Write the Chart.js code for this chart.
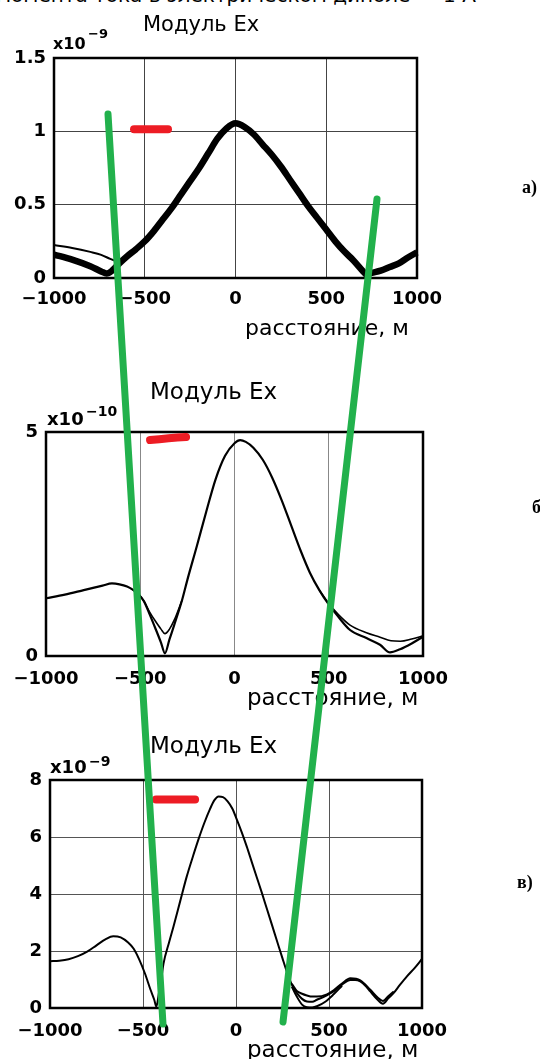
<!DOCTYPE html>
<html><head><meta charset="utf-8">
<script src="https://cdn.jsdelivr.net/npm/chart.js@4"></script>
<style>
html,body{margin:0;padding:0;background:#fff;}
body{width:540px;height:1059px;position:relative;overflow:hidden;}
canvas.panel{position:absolute;left:0;}
#overlay{position:absolute;left:0;top:0;z-index:10;pointer-events:none;}
.t{position:absolute;white-space:nowrap;line-height:1;color:#000;z-index:5;}
</style></head><body>
<canvas id="c1" class="panel"></canvas>
<canvas id="c2" class="panel"></canvas>
<canvas id="c3" class="panel"></canvas>
<canvas id="overlay" width="540" height="1059"></canvas>
<script>
// ---------- DATA ----------
const xTicks = [-1000, -500, 0, 500, 1000];
const p1_yTicks = [0, 0.5, 1, 1.5];      // ×10^-9
const p2_yTicks = [0, 5];                // ×10^-10
const p3_yTicks = [0, 2, 4, 6, 8];       // ×10^-9

// Panel a) |Ex| ×10^-9
const p1_x = [-1000,-900,-800,-740,-710,-680,-640,-600,-550,-500,-450,-400,-350,-300,-250,-200,-150,-100,-50,0,50,100,150,200,250,300,350,400,450,500,550,600,650,700,720,750,800,850,900,950,1000];
const p1_main = [0.16,0.125,0.08,0.045,0.03,0.05,0.10,0.145,0.195,0.25,0.32,0.40,0.48,0.57,0.66,0.75,0.85,0.95,1.02,1.055,1.03,0.98,0.91,0.84,0.76,0.67,0.58,0.49,0.41,0.33,0.25,0.18,0.12,0.05,0.025,0.035,0.05,0.075,0.10,0.14,0.175];
const p1_thin_x = [-1000,-900,-800,-740,-690,-640];
const p1_thin = [0.225,0.205,0.178,0.158,0.13,0.105];
const p1_red_x = [-559,-372];
const p1_red = [1.014,1.014];

// Panel б) |Ex| ×10^-10
const p2_x = [-1000,-900,-800,-700,-650,-610,-570,-540,-510,-480,-450,-420,-390,-369,-345,-320,-278,-250,-200,-150,-100,-50,0,30,60,100,150,200,250,300,350,400,450,500,550,613,700,772,825,878,940,1000];
const p2_a = [1.29,1.37,1.47,1.57,1.62,1.60,1.55,1.48,1.38,1.22,0.93,0.62,0.30,0.06,0.37,0.69,1.25,1.70,2.45,3.22,3.95,4.47,4.75,4.82,4.78,4.65,4.38,3.98,3.48,2.92,2.36,1.86,1.47,1.15,0.88,0.58,0.40,0.25,0.08,0.15,0.28,0.43];
const p2_b_x = [-540,-510,-480,-450,-420,-390,-369,-345,-320,-278];
const p2_b = [1.48,1.38,1.22,0.98,0.78,0.60,0.50,0.60,0.80,1.25];
const p2_c_x = [450,500,550,613,700,772,830,880,940,1000];
const p2_c = [1.47,1.17,0.93,0.69,0.52,0.42,0.34,0.33,0.38,0.45];
const p2_red_x = [-448,-350,-257];
const p2_red = [4.82,4.86,4.89];

// Panel в) |Ex| ×10^-9
const p3_x = [-1000,-950,-900,-850,-800,-750,-700,-660,-620,-580,-550,-520,-490,-460,-440,-428,-415,-400,-390,-360,-336,-300,-265,-230,-200,-170,-140,-115,-94,-70,-45,-20,4,30,58,85,112,140,166,195,220,250,274,300,327,355,381,410,435,480,525,570,615,640,668,700,722,760,790,820,848,880,919,960,1000];
const p3_a = [1.64,1.66,1.71,1.82,1.98,2.2,2.42,2.52,2.48,2.30,2.08,1.70,1.22,0.65,0.30,0.05,0.5,1.1,1.55,2.3,2.86,3.75,4.61,5.35,5.95,6.5,6.98,7.3,7.42,7.40,7.25,7.0,6.62,6.18,5.66,5.12,4.58,4.02,3.48,2.88,2.36,1.74,1.26,0.82,0.53,0.32,0.23,0.22,0.29,0.42,0.58,0.82,0.98,0.98,0.93,0.75,0.58,0.30,0.15,0.35,0.53,0.80,1.11,1.4,1.72];
const p3_b_x = [300,327,355,381,410,435,480,525,570];
const p3_b = [0.75,0.40,0.12,0.03,0.02,0.06,0.22,0.48,0.78];
const p3_c_x = [300,327,355,381,410,435,489,525,570,615,668,722,760,790,820,848];
const p3_c = [0.85,0.60,0.50,0.44,0.40,0.40,0.48,0.62,0.86,1.04,0.97,0.64,0.38,0.25,0.42,0.58];
const p3_red_x = [-430,-220];
const p3_red = [7.32,7.32];

// Hand-drawn green annotation strokes (page coordinate layer, px)
const greenLeft_x = [108,163];
const greenLeft_y = [114,1024];
const greenRight_x = [377,283];
const greenRight_y = [199,1022];

// ---------- HELPERS ----------
const pts = (xs, ys) => xs.map((x, i) => ({x, y: ys[i]}));
const fmt = v => String(v).replace('-', '\u2212');
const tickFont = {family: 'DejaVu Sans', weight: 'bold', size: 18};

const frame = {
  id: 'frame',
  beforeDatasetsDraw(chart) {
    const {ctx, chartArea: a} = chart;
    ctx.save();
    ctx.strokeStyle = '#000';
    ctx.lineWidth = 2.5;
    ctx.strokeRect(a.left, a.top, a.right - a.left, a.bottom - a.top);
    ctx.restore();
  }
};

function curve(data, width) {
  return {data, borderColor: '#000', borderWidth: width, pointRadius: 0,
          cubicInterpolationMode: 'monotone', clip: false, fill: false};
}
function red(data) {
  return {data, borderColor: '#ed1c24', borderWidth: 8, pointRadius: 0,
          borderCapStyle: 'round', borderJoinStyle: 'round', tension: 0.3, clip: false};
}

function panel(id, box, yMin, yMax, yTicks, gridColor, yGrid, datasets) {
  const cv = document.getElementById(id);
  cv.width = 540;
  cv.height = box.B - box.T + 80;
  cv.style.top = (box.T - 30) + 'px';
  new Chart(cv, {
    type: 'line',
    data: {datasets},
    options: {
      responsive: false, animation: false, events: [],
      layout: {padding: {top: 30, right: 540 - box.R, bottom: 20, left: 0}},
      plugins: {legend: {display: false}, tooltip: {enabled: false}},
      scales: {
        x: {type: 'linear', min: -1000, max: 1000,
            afterBuildTicks: s => { s.ticks = xTicks.map(v => ({value: v})); },
            afterFit: s => { s.height = 30; },
            grid: {color: gridColor, lineWidth: 1, drawTicks: false},
            border: {display: false},
            ticks: {padding: box.xpad, font: tickFont, color: '#000', maxRotation: 0, autoSkip: false, callback: v => fmt(v)}},
        y: {type: 'linear', min: yMin, max: yMax,
            afterBuildTicks: s => { s.ticks = yTicks.map(v => ({value: v})); },
            afterFit: s => { s.width = box.L; },
            grid: {display: yGrid, color: gridColor, lineWidth: 1, drawTicks: false},
            border: {display: false},
            ticks: {padding: 8, font: tickFont, color: '#000', autoSkip: false, callback: v => fmt(v)}}
      }
    },
    plugins: [frame]
  });
}

panel('c1', {L: 54, T: 58, R: 417, B: 278, xpad: 11}, 0, 1.5, p1_yTicks, '#444', true, [
  curve(pts(p1_x, p1_main), 6.5),
  curve(pts(p1_thin_x, p1_thin), 2),
  red(pts(p1_red_x, p1_red))
]);
panel('c2', {L: 46, T: 432, R: 423, B: 656, xpad: 13}, 0, 5, p2_yTicks, '#888', false, [
  curve(pts(p2_x, p2_a), 2.2),
  curve(pts(p2_b_x, p2_b), 1.6),
  curve(pts(p2_c_x, p2_c), 1.6),
  red(pts(p2_red_x, p2_red))
]);
panel('c3', {L: 50, T: 780, R: 422, B: 1008, xpad: 13}, 0, 8, p3_yTicks, '#555', true, [
  curve(pts(p3_x, p3_a), 2),
  curve(pts(p3_b_x, p3_b), 2),
  curve(pts(p3_c_x, p3_c), 2),
  red(pts(p3_red_x, p3_red))
]);

// overlay with green strokes
new Chart(document.getElementById('overlay'), {
  type: 'line',
  data: {datasets: [
    {data: pts(greenLeft_x, greenLeft_y), borderColor: '#22b14c', borderWidth: 7, pointRadius: 0, borderCapStyle: 'round'},
    {data: pts(greenRight_x, greenRight_y), borderColor: '#22b14c', borderWidth: 7, pointRadius: 0, borderCapStyle: 'round'}
  ]},
  options: {
    responsive: false, animation: false, events: [],
    layout: {padding: 0},
    plugins: {legend: {display: false}, tooltip: {enabled: false}},
    scales: {
      x: {type: 'linear', min: 0, max: 540, display: false},
      y: {type: 'linear', min: 0, max: 1059, reverse: true, display: false}
    }
  }
});

// ---------- TEXT ----------
const K = {'DejaVu Sans': 0.846, 'Liberation Serif': 0.8375};
function txt(s, left, baseline, size, family, weight) {
  const d = document.createElement('div');
  d.className = 't';
  d.textContent = s;
  d.style.left = left + 'px';
  d.style.top = (baseline - K[family] * size) + 'px';
  d.style.fontSize = size + 'px';
  d.style.fontFamily = "'" + family + "'";
  d.style.fontWeight = weight || 'normal';
  document.body.appendChild(d);
}
txt('момента тока в электрическом диполе — 1 А', -4, 2, 20, 'DejaVu Sans');
txt('Модуль Ex', 143, 32, 21, 'DejaVu Sans');
txt('Модуль Ex', 150, 399, 23, 'DejaVu Sans');
txt('Модуль Ex', 150, 753, 23, 'DejaVu Sans');
txt('расстояние, м', 245, 336, 22, 'DejaVu Sans');
txt('расстояние, м', 247, 705, 23, 'DejaVu Sans');
txt('расстояние, м', 247, 1057, 23, 'DejaVu Sans');
txt('x10', 53, 50, 16, 'DejaVu Sans', 'bold');
txt('\u22129', 88, 38, 13, 'DejaVu Sans', 'bold');
txt('x10', 47, 425, 18, 'DejaVu Sans', 'bold');
txt('\u221210', 86, 416, 14, 'DejaVu Sans', 'bold');
txt('x10', 50, 773, 18, 'DejaVu Sans', 'bold');
txt('\u22129', 89, 766, 14, 'DejaVu Sans', 'bold');
txt('а)', 522, 193, 18, 'Liberation Serif', 'bold');
txt('б)', 532, 513, 18, 'Liberation Serif', 'bold');
txt('в)', 517, 888, 18, 'Liberation Serif', 'bold');
</script>
</body></html>
